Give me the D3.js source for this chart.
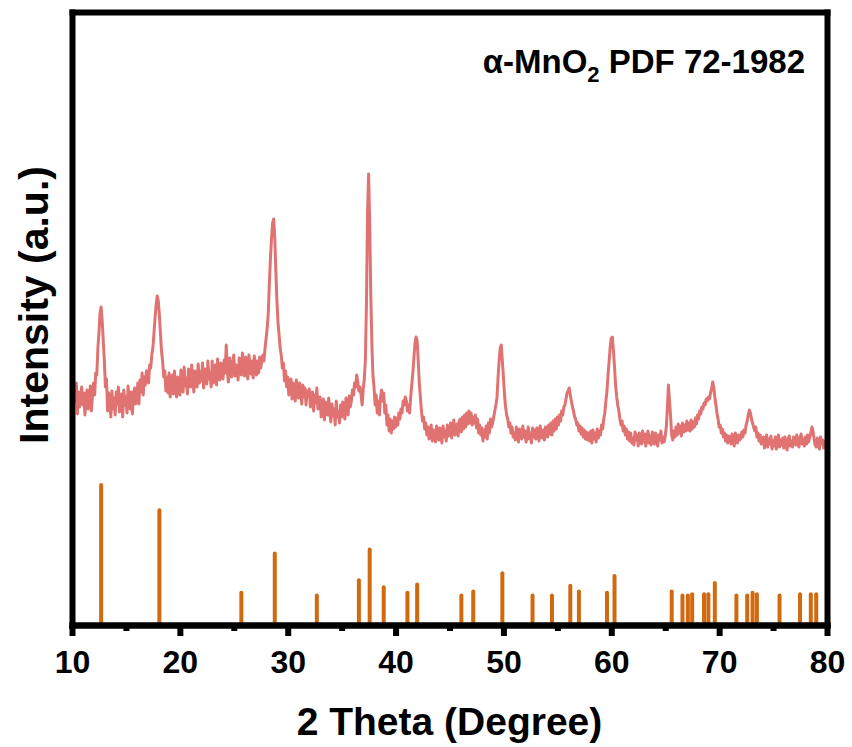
<!DOCTYPE html>
<html>
<head>
<meta charset="utf-8">
<script src="https://cdn.jsdelivr.net/npm/d3@7"></script>
<style>
  body { margin: 0; background: #fff; }
  text { font-family: "Liberation Sans", Arial, sans-serif; font-weight: bold; fill: #000; }
</style>
</head>
<body>
<div id="xrd-chart"></div>
<script>
// measured pattern, 2theta from 10 to 80 deg in 0.1 deg steps (a.u.)
var xrdStart = 10, xrdStep = 0.1;
var xrdIntensity = [
  236,214,228,222,240,209,231,216,226,236, // 10
  218,230,208,226,233,214,221,237,212,228, // 11
  240,228,250,248,275,290,310,316,302,282, // 12
  262,236,244,212,230,220,206,232,214,225, // 13
  208,231,219,236,211,224,229,206,233,218, // 14
  226,210,237,220,214,231,209,228,235,219, // 15
  224,240,219,243,231,250,228,246,238,252, // 16
  252,240,258,255,268,275,290,305,318,327, // 17
  322,308,290,272,262,246,252,232,246,230, // 18
  250,226,238,248,229,252,235,226,246,233, // 19
  228,253,240,231,256,237,245,229,254,242, // 20
  236,258,243,231,252,247,236,259,240,251, // 21
  242,260,235,254,248,239,262,244,250,236, // 22
  262,240,251,258,238,264,247,243,260,249, // 23
  244,263,250,278,252,241,265,255,246,262, // 24
  268,247,258,252,243,265,256,248,270,251, // 25
  247,266,254,244,268,258,249,262,245,267, // 26
  258,248,262,250,266,255,263,268,262,275, // 27
  285,295,310,340,365,385,400,404,385,352, // 28
  322,300,288,275,268,255,260,242,252,236, // 29
  246,228,236,244,224,240,231,222,243,232, // 30
  225,240,230,219,238,226,235,218,232,227, // 31
  234,216,224,231,212,228,220,235,214,222, // 32
  226,206,217,224,203,221,212,208,225,210, // 33
  201,219,207,214,198,222,206,211,200,218, // 34
  206,221,212,204,225,214,208,227,216,222, // 35
  233,228,240,236,248,240,232,236,228,218, // 36
  234,244,263,320,410,449,400,330,280,248, // 37
  236,218,228,210,222,208,225,233,222,230, // 38
  210,218,198,208,192,204,190,202,194,206, // 39
  196,205,198,210,204,214,210,222,218,226, // 40
  222,212,218,210,226,238,250,265,280,286, // 41
  282,262,240,226,212,202,206,194,200,188, // 42
  196,184,190,198,182,193,187,181,197,189, // 43
  183,195,188,180,197,186,192,182,198,187, // 44
  190,200,185,196,203,188,194,199,187,202, // 45
  204,191,206,194,208,196,210,199,212,200, // 46
  210,198,206,200,208,195,204,190,198,188, // 47
  195,182,193,186,197,184,200,190,204,196, // 48
  200,206,212,218,225,245,262,275,278,262, // 49
  246,228,216,208,204,196,200,190,196,186, // 50
  190,183,196,187,181,194,189,184,197,186, // 51
  192,181,188,196,184,190,180,195,186,193, // 52
  184,195,189,182,197,191,185,193,183,196, // 53
  196,186,198,189,200,188,202,192,204,194, // 54
  206,198,208,202,212,208,216,218,224,230, // 55
  232,235,228,222,216,212,206,204,198,200, // 56
  192,197,189,195,186,193,184,191,183,190, // 57
  182,192,180,193,184,190,181,194,185,192, // 58
  188,198,194,204,210,222,232,248,262,276, // 59
  285,286,272,256,238,226,218,212,204,198, // 60
  202,192,197,188,194,184,191,182,190,180, // 61
  185,178,191,183,188,177,190,184,179,192, // 62
  181,189,177,186,192,180,187,178,191,184, // 63
  179,190,185,177,188,183,192,180,186,181, // 64
  187,196,215,238,222,206,188,183,192,186, // 65
  196,188,199,190,197,187,200,191,198,192, // 66
  202,193,200,192,203,194,201,196,205,199, // 67
  208,204,212,209,216,214,220,218,224,222, // 68
  226,224,230,234,241,236,226,218,210,204, // 69
  196,198,190,194,186,190,182,188,180,187, // 70
  184,179,189,182,177,190,185,180,188,183, // 71
  184,191,186,193,190,198,202,208,213,210, // 72
  204,200,196,192,196,186,190,182,188,179, // 73
  181,186,175,183,188,176,184,179,187,174, // 74
  182,177,186,174,184,188,176,183,178,185, // 75
  175,186,180,173,184,187,177,182,176,186, // 76
  183,178,188,180,176,185,189,179,184,177, // 77
  186,179,188,181,186,190,196,192,184,178, // 78
  176,185,180,174,186,179,183,175,182,177, // 79
  178                                       // 80
];

// PDF 72-1982 reference lines: 2theta and relative intensity
var pdfTheta = [12.7, 18.1, 25.7, 28.8, 32.7, 36.6, 37.6, 38.9, 41.1, 42.0,
                46.1, 47.2, 49.9, 52.7, 54.5, 56.2, 57.0, 59.6, 60.3, 65.6,
                66.6, 67.1, 67.5, 68.6, 69.0, 69.6, 71.6, 72.6, 73.1, 73.5,
                75.6, 77.5, 78.5, 79.0];
var pdfIntensity = [100, 82, 23, 51, 21, 32, 54, 27, 23, 29,
                    21, 24, 37, 21, 21, 28, 24, 23, 35, 24,
                    21, 21, 22, 22, 22, 30, 21, 21, 23, 22,
                    21, 22, 22, 22];

var majorTicks = [10, 20, 30, 40, 50, 60, 70, 80];
var minorTicks = [15, 25, 35, 45, 55, 65, 75];

var xrdData = xrdIntensity.map(function(v, i) {
  return { theta: xrdStart + i * xrdStep, value: v };
});

var W = 852, H = 747;
var margin = { top: 12, right: 25, bottom: 122, left: 72 };
var width = W - margin.left - margin.right;   // 755
var height = H - margin.top - margin.bottom;  // 613

var svg = d3.select("#xrd-chart").append("svg")
  .attr("width", W)
  .attr("height", H)
  .append("g")
  .attr("transform", "translate(" + margin.left + "," + margin.top + ")");

var x = d3.scaleLinear().domain([10, 80]).range([0, width]);
// pattern scale and stick scale share the same frame
var y = d3.scaleLinear().domain([0, 611]).range([height - 2, 0]);
var yStick = d3.scaleLinear().domain([0, 100]).range([height, height - 140]);

// reference sticks
svg.selectAll(".stick")
  .data(pdfTheta)
  .enter().append("line")
  .attr("class", "stick")
  .attr("x1", function(d) { return x(d); })
  .attr("x2", function(d) { return x(d); })
  .attr("y1", height)
  .attr("y2", function(d, i) { return yStick(pdfIntensity[i]); })
  .style("stroke", "#D2690F")
  .style("stroke-width", 4)
  .style("stroke-linecap", "round");

// pattern
var line = d3.line()
  .x(function(d) { return x(d.theta); })
  .y(function(d) { return y(d.value); });

svg.append("path")
  .datum(xrdData)
  .attr("d", line)
  .style("fill", "none")
  .style("stroke", "#E07272")
  .style("stroke-width", 3)
  .style("stroke-linejoin", "round");

// frame
var yFrame = d3.scaleLinear().domain([0, 1]).range([height, 0]);
svg.append("g")
  .attr("class", "frame")
  .call(d3.axisLeft(yFrame).tickValues([]).tickSizeOuter(0));
svg.append("g")
  .attr("class", "frame")
  .attr("transform", "translate(" + width + ",0)")
  .call(d3.axisRight(yFrame).tickValues([]).tickSizeOuter(0));
svg.append("g")
  .attr("class", "frame")
  .call(d3.axisTop(x).tickValues([]).tickSizeOuter(0));

// minor ticks
svg.append("g")
  .attr("class", "frame minor")
  .attr("transform", "translate(0," + height + ")")
  .call(d3.axisBottom(x).tickValues(minorTicks).tickSize(6).tickSizeOuter(0).tickFormat(""));

// major ticks and labels
var xAxis = svg.append("g")
  .attr("class", "frame")
  .attr("transform", "translate(0," + height + ")")
  .call(d3.axisBottom(x).tickValues(majorTicks).tickSize(11).tickSizeOuter(0));

svg.selectAll(".frame path.domain")
  .style("stroke", "#000")
  .style("stroke-width", 6)
  .style("stroke-linecap", "square");
svg.selectAll(".frame .tick line")
  .style("stroke", "#000")
  .style("stroke-width", 6);

xAxis.selectAll(".tick text")
  .attr("y", 48)
  .attr("dy", null)
  .style("font-size", "32px")
  .style("font-family", "'Liberation Sans', Arial, sans-serif")
  .style("font-weight", "bold")
  .style("fill", "#000");

// axis titles
svg.append("text")
  .attr("x", width / 2)
  .attr("y", 735 - margin.top)
  .attr("text-anchor", "middle")
  .style("font-size", "39px")
  .text("2 Theta (Degree)");

svg.append("text")
  .attr("transform", "rotate(-90)")
  .attr("x", -(305 - margin.top))
  .attr("y", 48 - margin.left)
  .attr("text-anchor", "middle")
  .style("font-size", "41px")
  .text("Intensity (a.u.)");

// phase label
var label = svg.append("text")
  .attr("x", 805 - margin.left)
  .attr("y", 73 - margin.top)
  .attr("text-anchor", "end")
  .style("font-size", "33px");
label.append("tspan").text("α-MnO");
label.append("tspan").attr("dy", 9).style("font-size", "22px").text("2");
label.append("tspan").attr("dy", -9).text(" PDF 72-1982");
</script>
</body>
</html>
